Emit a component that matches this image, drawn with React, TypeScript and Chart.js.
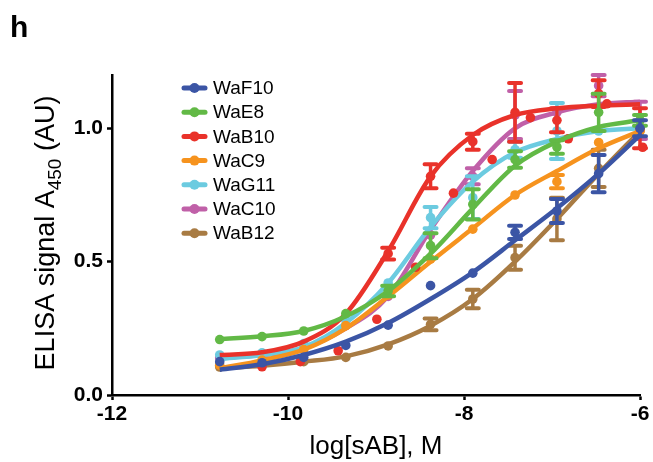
import React, { useEffect, useRef } from 'react';
import { Chart, registerables } from 'chart.js';

Chart.register(...registerables);

// ---------- data ----------
const SERIES_NAMES = ['WaF10', 'WaE8', 'WaB10', 'WaC9', 'WaG11', 'WaC10', 'WaB12'];
const SERIES_COLORS = ['#3b55a5', '#62b946', '#e9322a', '#f6931e', '#6ccbe0', '#c060a8', '#a87b43'];

// log[sAB] (M) at which the samples were measured
const LOG_DOSE = [-10.776, -10.295, -9.821, -9.343, -8.862, -8.38, -7.9, -7.42, -6.944, -6.47, -6.0];

const WaF10_MEAN = [0.125, 0.121, 0.141, 0.186, 0.262, 0.41, 0.457, 0.61, 0.69, 0.83, 1.0];
const WaF10_ERR = [0, 0, 0, 0, 0, 0, 0, 0.025, 0.045, 0.07, 0.03];
const WaF10_FIT = [0.095, 0.115, 0.15, 0.2, 0.27, 0.36, 0.46, 0.58, 0.7, 0.83, 0.975];

const WaE8_MEAN = [0.208, 0.219, 0.24, 0.305, 0.39, 0.56, 0.715, 0.883, 0.93, 1.06, 1.03];
const WaE8_ERR = [0, 0, 0, 0, 0.02, 0.047, 0.057, 0.031, 0.025, 0.07, 0.02];
const WaE8_FIT = [0.21, 0.22, 0.24, 0.295, 0.39, 0.53, 0.7, 0.86, 0.95, 1.005, 1.03];

const WaB10_MEAN = [null, null, null, null, 0.53, 0.82, 0.95, 1.06, 1.03, 1.13, 1.0];
const WaB10_ERR = [0, 0, 0, 0, 0.022, 0.045, 0.03, 0.11, 0.045, 0.05, 0.075];
const WaB10_FIT = [0.15, 0.16, 0.2, 0.305, 0.54, 0.82, 0.975, 1.05, 1.075, 1.085, 1.09];
const WaB10_EXTRA_DOSE = [-10.295, -9.86, -9.43, -8.99, -8.55, -8.12, -7.68, -7.245, -6.815, -6.376, -5.97];
const WaB10_EXTRA_VALUE = [0.106, 0.125, 0.166, 0.284, 0.479, 0.757, 0.883, 1.04, 0.961, 1.092, 0.929];

const WaC9_MEAN = [0.112, 0.131, 0.17, 0.26, 0.375, 0.51, 0.622, 0.75, 0.8, 0.947, 0.99];
const WaC9_ERR = [0, 0, 0, 0, 0, 0, 0, 0, 0.025, 0, 0];
const WaC9_FIT = [0.1, 0.13, 0.17, 0.25, 0.37, 0.5, 0.625, 0.75, 0.84, 0.925, 0.99];

const WaG11_MEAN = [0.15, 0.158, 0.193, 0.28, 0.42, 0.665, 0.74, 0.92, 0.99, 0.99, 1.0];
const WaG11_ERR = [0, 0, 0, 0, 0, 0.04, 0.08, 0.03, 0.105, 0, 0];
const WaG11_FIT = [0.135, 0.15, 0.18, 0.27, 0.42, 0.63, 0.8, 0.91, 0.96, 0.99, 1.0];

const WaC10_MEAN = [0.14, 0.15, 0.18, 0.26, 0.37, 0.6, 0.82, 1.05, 1.06, 1.16, 1.03];
const WaC10_ERR = [0, 0, 0, 0, 0, 0, 0.03, 0.09, 0, 0.04, 0.07];
const WaC10_FIT = [0.14, 0.15, 0.175, 0.25, 0.37, 0.62, 0.84, 1.0, 1.06, 1.09, 1.1];

const WaB12_MEAN = [0.105, 0.113, 0.125, 0.141, 0.184, 0.265, 0.36, 0.515, 0.66, 0.85, 0.99];
const WaB12_ERR = [0, 0, 0, 0, 0, 0.022, 0.035, 0.045, 0.08, 0.07, 0];
const WaB12_FIT = [0.1, 0.11, 0.125, 0.145, 0.19, 0.26, 0.36, 0.5, 0.66, 0.83, 0.99];

const X_TICKS = [-12, -10, -8, -6];
const Y_TICKS = [0, 0.5, 1.0];
const X_TITLE = 'log[sAB], M';
const Y_TITLE_MAIN = 'ELISA signal A';
const Y_TITLE_SUB = '450';
const Y_TITLE_END = ' (AU)';
const PANEL_LABEL = 'h';

const MEANS = [WaF10_MEAN, WaE8_MEAN, WaB10_MEAN, WaC9_MEAN, WaG11_MEAN, WaC10_MEAN, WaB12_MEAN];
const ERRS = [WaF10_ERR, WaE8_ERR, WaB10_ERR, WaC9_ERR, WaG11_ERR, WaC10_ERR, WaB12_ERR];
const FITS = [WaF10_FIT, WaE8_FIT, WaB10_FIT, WaC9_FIT, WaG11_FIT, WaC10_FIT, WaB12_FIT];

const FONT = '"Liberation Sans", Arial, Helvetica, sans-serif';

// ---------- plugins ----------
const errorBarPlugin = {
  id: 'errorBars',
  afterDatasetDraw(chart: any, args: any) {
    const ds = chart.data.datasets[args.index];
    if (!ds.errorBars) return;
    const ctx = chart.ctx;
    const xS = chart.scales.x;
    const yS = chart.scales.y;
    ctx.save();
    ctx.strokeStyle = ds.borderColor;
    ds.data.forEach((p: any, i: number) => {
      const e = ds.errorBars[i];
      if (!e || p.y == null) return;
      const px = xS.getPixelForValue(p.x);
      const yt = yS.getPixelForValue(p.y + e);
      const yb = yS.getPixelForValue(p.y - e);
      ctx.lineCap = 'butt';
      ctx.lineWidth = 3.5;
      ctx.beginPath();
      ctx.moveTo(px, yt);
      ctx.lineTo(px, yb);
      ctx.stroke();
      ctx.lineCap = 'round';
      ctx.lineWidth = 4;
      ctx.beginPath();
      ctx.moveTo(px - 6, yt);
      ctx.lineTo(px + 6, yt);
      ctx.moveTo(px - 6, yb);
      ctx.lineTo(px + 6, yb);
      ctx.stroke();
    });
    ctx.restore();
  },
};

const decorPlugin = {
  id: 'decor',
  afterDraw(chart: any) {
    const ctx = chart.ctx;
    ctx.save();
    // panel label
    ctx.fillStyle = '#000';
    ctx.font = `bold 30px ${FONT}`;
    ctx.textAlign = 'left';
    ctx.textBaseline = 'alphabetic';
    ctx.fillText(PANEL_LABEL, 10, 37);

    // y-axis title with subscript
    const mainFont = `27px ${FONT}`;
    const subFont = `19px ${FONT}`;
    ctx.font = mainFont;
    const w1 = ctx.measureText(Y_TITLE_MAIN).width;
    const w3 = ctx.measureText(Y_TITLE_END).width;
    ctx.font = subFont;
    const w2 = ctx.measureText(Y_TITLE_SUB).width;
    const total = w1 + w2 + w3;
    ctx.translate(54, 233);
    ctx.rotate(-Math.PI / 2);
    let x = -total / 2;
    ctx.font = mainFont;
    ctx.fillText(Y_TITLE_MAIN, x, 0);
    x += w1;
    ctx.font = subFont;
    ctx.fillText(Y_TITLE_SUB, x, 7);
    x += w2;
    ctx.font = mainFont;
    ctx.fillText(Y_TITLE_END, x, 0);
    ctx.restore();

    // legend
    ctx.save();
    ctx.font = `19px ${FONT}`;
    ctx.textAlign = 'left';
    ctx.textBaseline = 'middle';
    SERIES_NAMES.forEach((name, i) => {
      const y = 88 + i * 24.2;
      const color = SERIES_COLORS[i];
      ctx.strokeStyle = color;
      ctx.fillStyle = color;
      ctx.lineWidth = 5;
      ctx.lineCap = 'round';
      ctx.beginPath();
      ctx.moveTo(184, y);
      ctx.lineTo(205, y);
      ctx.stroke();
      ctx.beginPath();
      ctx.arc(194.5, y, 5, 0, Math.PI * 2);
      ctx.fill();
      ctx.fillStyle = '#000';
      ctx.fillText(name, 213, y + 1);
    });
    ctx.restore();
  },
};

function buildDatasets() {
  const datasets: any[] = [];
  SERIES_NAMES.forEach((name, s) => {
    const color = SERIES_COLORS[s];
    datasets.push({
      label: name,
      data: LOG_DOSE.map((x, i) => ({ x, y: MEANS[s][i] })),
      errorBars: ERRS[s],
      showLine: false,
      borderColor: color,
      backgroundColor: color,
      pointBackgroundColor: color,
      pointBorderWidth: 0,
      pointRadius: 4.8,
      clip: false,
    });
    if (name === 'WaB10') {
      datasets.push({
        label: name + ' (replicate)',
        data: WaB10_EXTRA_DOSE.map((x, i) => ({ x, y: WaB10_EXTRA_VALUE[i] })),
        showLine: false,
        borderColor: color,
        backgroundColor: color,
        pointBackgroundColor: color,
        pointBorderWidth: 0,
        pointRadius: 4.8,
        clip: false,
      });
    }
    datasets.push({
      label: name + ' fit',
      data: LOG_DOSE.map((x, i) => ({ x, y: FITS[s][i] })),
      borderColor: color,
      backgroundColor: color,
      borderWidth: 4.5,
      pointRadius: 0,
      cubicInterpolationMode: 'monotone',
      fill: false,
      clip: false,
    });
  });
  return datasets;
}

export default function App() {
  const canvasRef = useRef<HTMLCanvasElement | null>(null);

  useEffect(() => {
    const canvas = canvasRef.current;
    if (!canvas) return;
    const chart = new Chart(canvas, {
      type: 'line',
      data: { datasets: buildDatasets() },
      options: {
        responsive: false,
        animation: false,
        devicePixelRatio: 1,
        layout: { padding: { left: 0, top: 75, right: 13, bottom: 0 } },
        plugins: {
          legend: { display: false },
          tooltip: { enabled: false },
          title: { display: false },
        },
        scales: {
          x: {
            type: 'linear',
            min: -12,
            max: -6,
            afterFit: (s: any) => {
              s.height = 67;
            },
            afterBuildTicks: (s: any) => {
              s.ticks = X_TICKS.map((value) => ({ value }));
            },
            ticks: {
              color: '#000',
              font: { family: FONT, size: 21, weight: 'bold' },
              padding: 2,
              maxRotation: 0,
              callback: (v: any) => String(v),
            },
            grid: {
              drawOnChartArea: false,
              drawTicks: true,
              tickLength: 5,
              tickWidth: 2.5,
              tickColor: '#000',
            },
            border: { display: true, color: '#000', width: 2.5 },
            title: {
              display: true,
              text: X_TITLE,
              color: '#000',
              font: { family: FONT, size: 26 },
              padding: { top: 0, bottom: 0 },
            },
          },
          y: {
            type: 'linear',
            min: 0,
            max: 1.2,
            afterFit: (s: any) => {
              s.width = 112;
            },
            afterBuildTicks: (s: any) => {
              s.ticks = Y_TICKS.map((value) => ({ value }));
            },
            ticks: {
              color: '#000',
              font: { family: FONT, size: 21, weight: 'bold' },
              padding: 4,
              callback: (v: any) => Number(v).toFixed(1),
            },
            grid: {
              drawOnChartArea: false,
              drawTicks: true,
              tickLength: 5,
              tickWidth: 2.5,
              tickColor: '#000',
            },
            border: { display: true, color: '#000', width: 2.5 },
          },
        },
      } as any,
      plugins: [errorBarPlugin, decorPlugin],
    });
    return () => chart.destroy();
  }, []);

  return (
    <div style={{ position: 'fixed', left: 0, top: 0, width: 653, height: 462, background: '#fff' }}>
      <canvas ref={canvasRef} width={653} height={462} style={{ display: 'block' }} />
    </div>
  );
}
